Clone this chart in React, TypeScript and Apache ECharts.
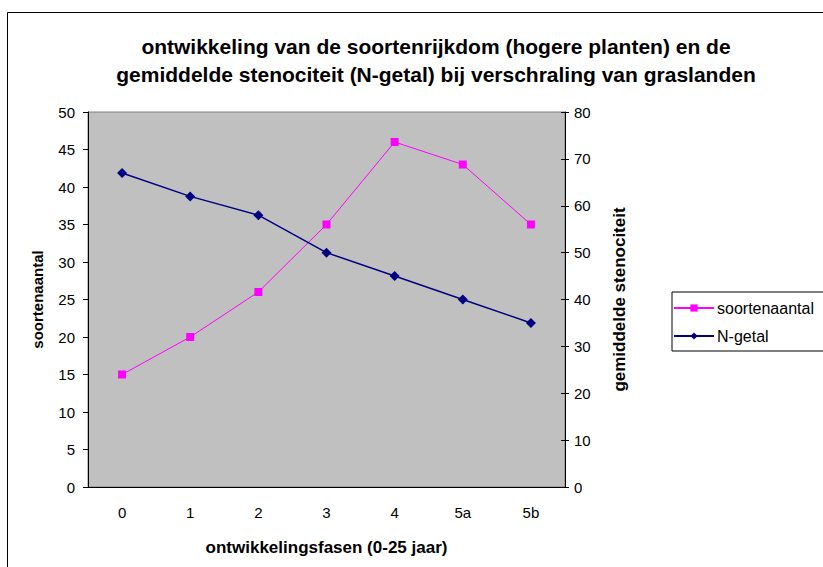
import React, { useEffect, useRef } from "react";
import * as echarts from "echarts";

const categories = ["0", "1", "2", "3", "4", "5a", "5b"];
const soortenaantal = [15, 20, 26, 35, 46, 43, 35];
const nGetal = [67, 62, 58, 50, 45, 40, 35];
const titleLines = [
  "ontwikkeling van de soortenrijkdom (hogere planten) en de",
  "gemiddelde stenociteit (N-getal) bij verschraling van graslanden",
];

const FONT = "Liberation Sans, Arial, sans-serif";

export default function App() {
  const ref = useRef<HTMLDivElement>(null);
  useEffect(() => {
    if (!ref.current) return;
    const chart = echarts.init(ref.current, undefined, { renderer: "svg" });
    const txt = { color: "#000", fontFamily: FONT };
    chart.setOption({
      animation: false,
      backgroundColor: "#fff",
      textStyle: { fontFamily: FONT },
      title: {
        text: titleLines.join("\n"),
        left: 431,
        textAlign: "center",
        top: 27,
        textStyle: { ...txt, fontSize: 21, fontWeight: "bold", lineHeight: 28 },
      },
      graphic: [
        {
          type: "rect",
          shape: { x: 7.5, y: 12.5, width: 900, height: 700 },
          style: { fill: "none", stroke: "#000", lineWidth: 1 },
          silent: true,
          z: -10,
        },
      ],
      legend: {
        orient: "vertical",
        left: 672,
        top: 292,
        padding: [8, 12, 7, 1],
        itemGap: 12,
        itemWidth: 40,
        itemHeight: 9,
        borderColor: "#000",
        borderWidth: 1,
        backgroundColor: "#fff",
        textStyle: { ...txt, fontSize: 16, padding: [0, 0, 0, -2] },
        data: ["soortenaantal", "N-getal"],
      },
      grid: {
        left: 88,
        top: 112,
        width: 477,
        height: 375,
        show: true,
        backgroundColor: "#C0C0C0",
        borderColor: "#808080",
        borderWidth: 1,
      },
      xAxis: [
        {
          type: "category",
          data: categories,
          boundaryGap: true,
          axisLine: { lineStyle: { color: "#000", width: 1 } },
          axisTick: { length: 5, lineStyle: { color: "#000" } },
          axisLabel: { ...txt, fontSize: 15, margin: 18 },
          name: "ontwikkelingsfasen (0-25 jaar)",
          nameLocation: "middle",
          nameGap: 52,
          nameTextStyle: { ...txt, fontSize: 17, fontWeight: "bold" },
          splitLine: { show: false },
        },
        {
          type: "category",
          data: categories,
          position: "bottom",
          boundaryGap: true,
          axisLine: { show: false },
          axisTick: { inside: true, length: 4, lineStyle: { color: "#000" } },
          axisLabel: { show: false },
          splitLine: { show: false },
        },
      ],
      yAxis: [
        {
          type: "value",
          min: 0,
          max: 50,
          interval: 5,
          position: "left",
          axisLine: { show: true, lineStyle: { color: "#000", width: 1 } },
          axisTick: { show: true, length: 5, lineStyle: { color: "#000" } },
          axisLabel: { ...txt, fontSize: 15, margin: 13 },
          splitLine: { show: false },
          name: "soortenaantal",
          nameLocation: "middle",
          nameRotate: 90,
          nameGap: 43,
          nameTextStyle: { ...txt, fontSize: 15, fontWeight: "bold" },
        },
        {
          type: "value",
          min: 0,
          max: 80,
          interval: 10,
          position: "right",
          axisLine: { show: true, lineStyle: { color: "#000", width: 1 } },
          axisTick: { show: true, length: 4, lineStyle: { color: "#000" } },
          axisLabel: { ...txt, fontSize: 15, margin: 9 },
          splitLine: { show: false },
          name: "gemiddelde stenociteit",
          nameLocation: "middle",
          nameRotate: 90,
          nameGap: 46,
          nameTextStyle: { ...txt, fontSize: 17, fontWeight: "bold" },
        },
        {
          type: "value",
          min: 0,
          max: 80,
          interval: 10,
          position: "right",
          axisLine: { show: false },
          axisTick: { show: true, inside: true, length: 4, lineStyle: { color: "#000" } },
          axisLabel: { show: false },
          splitLine: { show: false },
        },
      ],
      series: [
        {
          name: "soortenaantal",
          type: "line",
          yAxisIndex: 0,
          data: soortenaantal,
          symbol: "rect",
          symbolSize: 8,
          lineStyle: { color: "#FF00FF", width: 1 },
          itemStyle: { color: "#FF00FF" },
        },
        {
          name: "N-getal",
          type: "line",
          yAxisIndex: 1,
          data: nGetal,
          symbol: "diamond",
          symbolSize: 10,
          lineStyle: { color: "#000080", width: 1.5 },
          itemStyle: { color: "#000080" },
        },
      ],
    });
    return () => chart.dispose();
  }, []);
  return (
    <div
      ref={ref}
      style={{ position: "absolute", left: 0, top: 0, width: 823, height: 567 }}
    />
  );
}
